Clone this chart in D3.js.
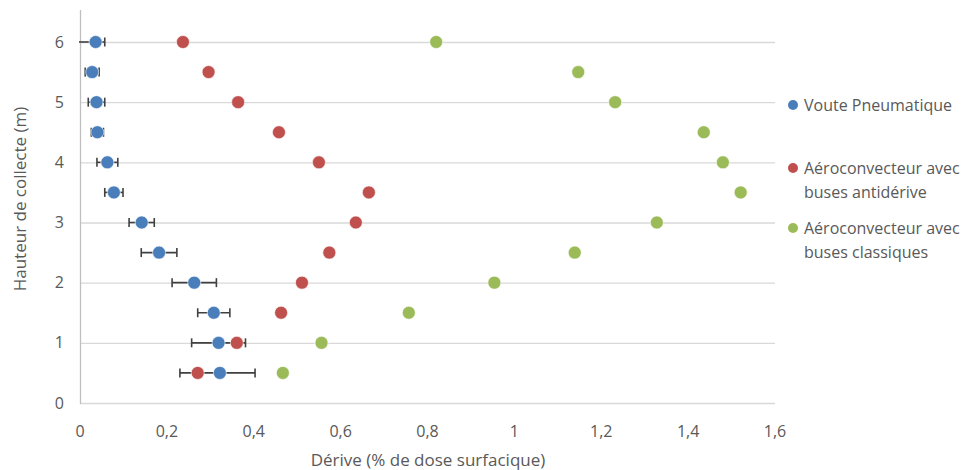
<!DOCTYPE html>
<html>
<head>
<meta charset="utf-8">
<script src="https://cdn.jsdelivr.net/npm/d3@7"></script>
<style>
  body { margin: 0; background: #fff; }
  svg text { font-family: "Open Sans", "Liberation Sans", sans-serif; fill: #595959; }
</style>
</head>
<body>
<svg id="chart" width="969" height="470"></svg>
<script>
"use strict";

// heights (m) of the collection points
var heights = [6, 5.5, 5, 4.5, 4, 3.5, 3, 2.5, 2, 1.5, 1, 0.5];

// Voute Pneumatique, with its error bars (minus / plus)
var voute = [0.036, 0.028, 0.038, 0.040, 0.063, 0.078, 0.142, 0.182, 0.263, 0.308, 0.319, 0.322];
var vouteErrMinus = [0.045, 0.016, 0.019, 0.014, 0.024, 0.021, 0.029, 0.041, 0.051, 0.037, 0.062, 0.092];
var vouteErrPlus = [0.021, 0.016, 0.019, 0.014, 0.024, 0.021, 0.029, 0.041, 0.051, 0.037, 0.062, 0.081];

var antiderive = [0.237, 0.296, 0.364, 0.458, 0.550, 0.665, 0.635, 0.574, 0.511, 0.463, 0.361, 0.271];
var classiques = [0.820, 1.147, 1.232, 1.436, 1.480, 1.521, 1.328, 1.139, 0.954, 0.757, 0.556, 0.467];

var xTicks = [0, 0.2, 0.4, 0.6, 0.8, 1, 1.2, 1.4, 1.6];
var yTicks = [0, 1, 2, 3, 4, 5, 6];

var seriesNames = ["Voute Pneumatique", "Aéroconvecteur avec buses antidérive", "Aéroconvecteur avec buses classiques"];
var seriesColors = ["#4a7ebb", "#c0504d", "#9bbb59"];

(function() {
	var svg = d3.select("#chart");
	var fmt = d3.format(",");

	var x = d3.scaleLinear().domain([0, 1.6]).range([80, 775]);
	var y = d3.scaleLinear().domain([0, 6]).range([403, 42]);

	// horizontal gridlines
	svg.append("g").selectAll("line")
		.data(yTicks)
		.join("line")
		.attr("x1", x(0)).attr("x2", x(1.6))
		.attr("y1", function(d) { return y(d) + 0.5; })
		.attr("y2", function(d) { return y(d) + 0.5; })
		.attr("stroke", "#d9d9d9")
		.attr("stroke-width", 1.3);

	// vertical axis line
	svg.append("line")
		.attr("x1", x(0) + 0.5).attr("x2", x(0) + 0.5)
		.attr("y1", y(6) - 32).attr("y2", y(0) + 1)
		.attr("stroke", "#bfbfbf")
		.attr("stroke-width", 1.3);

	// tick labels
	svg.append("g").selectAll("text")
		.data(yTicks)
		.join("text")
		.attr("x", 64)
		.attr("y", function(d) { return y(d); })
		.attr("dy", "0.35em")
		.attr("text-anchor", "end")
		.style("font-size", "16px")
		.text(function(d) { return d; });

	svg.append("g").selectAll("text")
		.data(xTicks)
		.join("text")
		.attr("x", function(d) { return x(d); })
		.attr("y", 431)
		.attr("dy", "0.35em")
		.attr("text-anchor", "middle")
		.style("font-size", "16px")
		.text(function(d) { return fmt(d).replace(".", ","); });

	// axis titles
	svg.append("text")
		.attr("transform", "translate(20,199) rotate(-90)")
		.attr("text-anchor", "middle")
		.attr("dy", "0.35em")
		.style("font-size", "17px")
		.text("Hauteur de collecte (m)");

	svg.append("text")
		.attr("x", 428)
		.attr("y", 460)
		.attr("dy", "0.35em")
		.attr("text-anchor", "middle")
		.style("font-size", "17px")
		.text("Dérive (% de dose surfacique)");

	// error bars for the Voute series
	var errData = heights.map(function(h, i) {
		return {h: h, lo: voute[i] - vouteErrMinus[i], hi: voute[i] + vouteErrPlus[i]};
	});
	var err = svg.append("g").attr("stroke", "#404040").attr("stroke-width", 1.6);
	err.selectAll("line.bar")
		.data(errData)
		.join("line")
		.attr("class", "bar")
		.attr("x1", function(d) { return d.lo >= 0 ? x(d.lo) : x(0) - 1; })
		.attr("x2", function(d) { return x(d.hi); })
		.attr("y1", function(d) { return y(d.h); })
		.attr("y2", function(d) { return y(d.h); });
	var caps = [];
	errData.forEach(function(d) {
		if (d.lo >= 0) caps.push({h: d.h, v: d.lo});
		caps.push({h: d.h, v: d.hi});
	});
	err.selectAll("line.cap")
		.data(caps)
		.join("line")
		.attr("class", "cap")
		.attr("x1", function(d) { return x(d.v); })
		.attr("x2", function(d) { return x(d.v); })
		.attr("y1", function(d) { return y(d.h) - 4.5; })
		.attr("y2", function(d) { return y(d.h) + 4.5; });

	// markers, drawn in series order
	var allSeries = [voute, antiderive, classiques];
	[2, 1, 0].forEach(function(s) {
		svg.append("g").selectAll("circle")
			.data(heights.map(function(h, i) { return {h: h, v: allSeries[s][i]}; }))
			.join("circle")
			.attr("cx", function(d) { return x(d.v); })
			.attr("cy", function(d) { return y(d.h); })
			.attr("r", 6.5)
			.attr("fill", seriesColors[s])
			.attr("stroke", "#ffffff")
			.attr("stroke-width", 0.6);
	});

	// legend
	var legendRows = [
		{lines: ["Voute Pneumatique"], y: 105},
		{lines: ["Aéroconvecteur avec", "buses antidérive"], y: 168},
		{lines: ["Aéroconvecteur avec", "buses classiques"], y: 228}
	];
	var legend = svg.append("g");
	legendRows.forEach(function(row, i) {
		legend.append("circle")
			.attr("cx", 793)
			.attr("cy", row.y)
			.attr("r", 5)
			.attr("fill", seriesColors[i]);
		row.lines.forEach(function(t, j) {
			legend.append("text")
				.attr("x", 804)
				.attr("y", row.y + j * 24)
				.attr("dy", "0.35em")
				.style("font-size", "16px")
				.text(t);
		});
	});
}());
</script>
</body>
</html>
